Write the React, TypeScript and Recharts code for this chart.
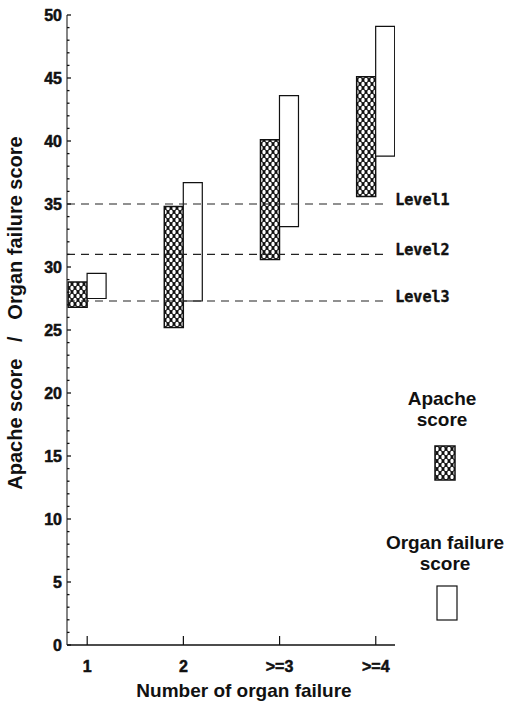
import { ComposedChart, Bar, XAxis, YAxis, ReferenceLine, Label } from "recharts";

const categories = ["1", "2", ">=3", ">=4"];
const apacheLow = [26.8, 25.2, 30.6, 35.6];
const apacheHigh = [28.8, 34.8, 40.1, 45.1];
const organLow = [27.5, 27.3, 33.2, 38.8];
const organHigh = [29.5, 36.7, 43.6, 49.1];
const levels = [
  { name: "Level1", value: 35 },
  { name: "Level2", value: 31 },
  { name: "Level3", value: 27.3 },
];
const yTicks = Array.from({ length: 51 }, (_, i) => i);

const data = categories.map((c, i) => ({
  pos: i + 1,
  label: c,
  apache: [apacheLow[i], apacheHigh[i]],
  organ: [organLow[i], organHigh[i]],
}));

const sans = '"Liberation Sans", Arial, sans-serif';
const mono = '"DejaVu Sans Mono", monospace';

function YTick({ x, y, payload }: any) {
  const v = payload.value;
  const major = v % 5 === 0;
  return (
    <g>
      <line x1={x} x2={x + (major ? 4 : 2.5)} y1={y} y2={y} stroke="#111" strokeWidth={1.3} />
      {major && (
        <text
          x={x - 5}
          y={y}
          dy={5.5}
          textAnchor="end"
          fill="#111"
          stroke="#111"
          strokeWidth={0.5}
          style={{ fontFamily: sans, fontWeight: 700, fontSize: 16 }}
        >
          {v}
        </text>
      )}
    </g>
  );
}

function XTick({ x, y, payload }: any) {
  const i = payload.value - 1;
  return (
    <g>
      <line x1={x} x2={x} y1={y} y2={y - 9} stroke="#111" strokeWidth={1.2} />
      <text
        x={x}
        y={y + 27}
        textAnchor="middle"
        fill="#111"
        stroke="#111"
        strokeWidth={0.5}
        style={{ fontFamily: sans, fontWeight: 700, fontSize: 16 }}
      >
        {categories[i]}
      </text>
    </g>
  );
}

function LevelLabel({ viewBox, name }: any) {
  return (
    <text
      x={viewBox.x + viewBox.width + 8}
      y={viewBox.y}
      dy={1}
      fill="#111"
      stroke="#111"
      strokeWidth={0.4}
      style={{ fontFamily: mono, fontWeight: 700, fontSize: 15 }}
    >
      {name}
    </text>
  );
}

function HatchPattern({ id }: { id: string }) {
  return (
    <pattern id={id} width={6} height={8} patternUnits="userSpaceOnUse">
      <rect width={6} height={8} fill="#111" />
      <ellipse cx={3} cy={4} rx={1.7} ry={2.3} fill="#fff" />
      <ellipse cx={0} cy={0} rx={1.7} ry={2.3} fill="#fff" />
      <ellipse cx={6} cy={0} rx={1.7} ry={2.3} fill="#fff" />
      <ellipse cx={0} cy={8} rx={1.7} ry={2.3} fill="#fff" />
      <ellipse cx={6} cy={8} rx={1.7} ry={2.3} fill="#fff" />
    </pattern>
  );
}

const legendText = { fontFamily: sans, fontWeight: "bold" as const, fontSize: 19, color: "#111", lineHeight: "21px" };

export default function App() {
  return (
    <div style={{ position: "absolute", left: 0, top: 0, width: 505, height: 706, background: "#fff" }}>
      <ComposedChart
        width={505}
        height={706}
        data={data}
        margin={{ top: 15, right: 110, bottom: 31, left: 17 }}
        barGap={0}
      >
        <defs>
          <HatchPattern id="hatch" />
        </defs>
        <XAxis
          dataKey="pos"
          type="number"
          domain={[0.79, 4.2]}
          ticks={[1, 2, 3, 4]}
          allowDataOverflow
          height={30}
          tickSize={0}
          tickMargin={0}
          tick={<XTick />}
          axisLine={{ stroke: "#111", strokeWidth: 1.3 }}
        >
          <Label
            content={() => (
              <text x={244} y={697} textAnchor="middle" fontFamily={sans} fontWeight="bold" fontSize={19} fill="#111">
                Number of organ failure
              </text>
            )}
          />
        </XAxis>
        <YAxis
          type="number"
          domain={[0, 50]}
          ticks={yTicks}
          interval={0}
          width={50}
          tickSize={0}
          tickMargin={0}
          tick={<YTick />}
          axisLine={{ stroke: "#333", strokeWidth: 1.2 }}
        >
          <Label
            content={() => (
              <text
                x={22}
                y={313}
                transform="rotate(-90 22 313)"
                textAnchor="middle"
                fontFamily={sans}
                fontWeight="bold"
                fontSize={20}
                fill="#111"
                style={{ whiteSpace: "pre" }}
              >
                {"Apache score   /   Organ failure score"}
              </text>
            )}
          />
        </YAxis>
        {levels.map((l) => (
          <ReferenceLine
            key={l.name}
            segment={[
              { x: 0.79, y: l.value },
              { x: 4.12, y: l.value },
            ]}
            stroke="#222"
            strokeWidth={1.2}
            strokeDasharray="8 6"
            ifOverflow="visible"
            label={<LevelLabel name={l.name} />}
          />
        ))}
        <Bar dataKey="apache" barSize={19} fill="url(#hatch)" stroke="#111" strokeWidth={1.5} isAnimationActive={false} />
        <Bar dataKey="organ" barSize={19} fill="#fff" stroke="#111" strokeWidth={1.2} isAnimationActive={false} />
      </ComposedChart>
      <div style={{ position: "absolute", left: 392, top: 388, width: 100, textAlign: "center", ...legendText }}>
        Apache
        <br />
        score
      </div>
      <div style={{ position: "absolute", left: 434, top: 445 }}>
        <svg width={22} height={36}>
          <defs>
            <HatchPattern id="hatchLegend" />
          </defs>
          <rect x={1} y={1} width={20} height={34} fill="url(#hatchLegend)" stroke="#111" strokeWidth={1.5} />
        </svg>
      </div>
      <div style={{ position: "absolute", left: 380, top: 532, width: 130, textAlign: "center", whiteSpace: "nowrap", ...legendText }}>
        Organ failure
        <br />
        score
      </div>
      <div style={{ position: "absolute", left: 436, top: 585 }}>
        <svg width={22} height={36}>
          <rect x={1} y={1} width={20} height={34} fill="#fff" stroke="#111" strokeWidth={1.2} />
        </svg>
      </div>
    </div>
  );
}
